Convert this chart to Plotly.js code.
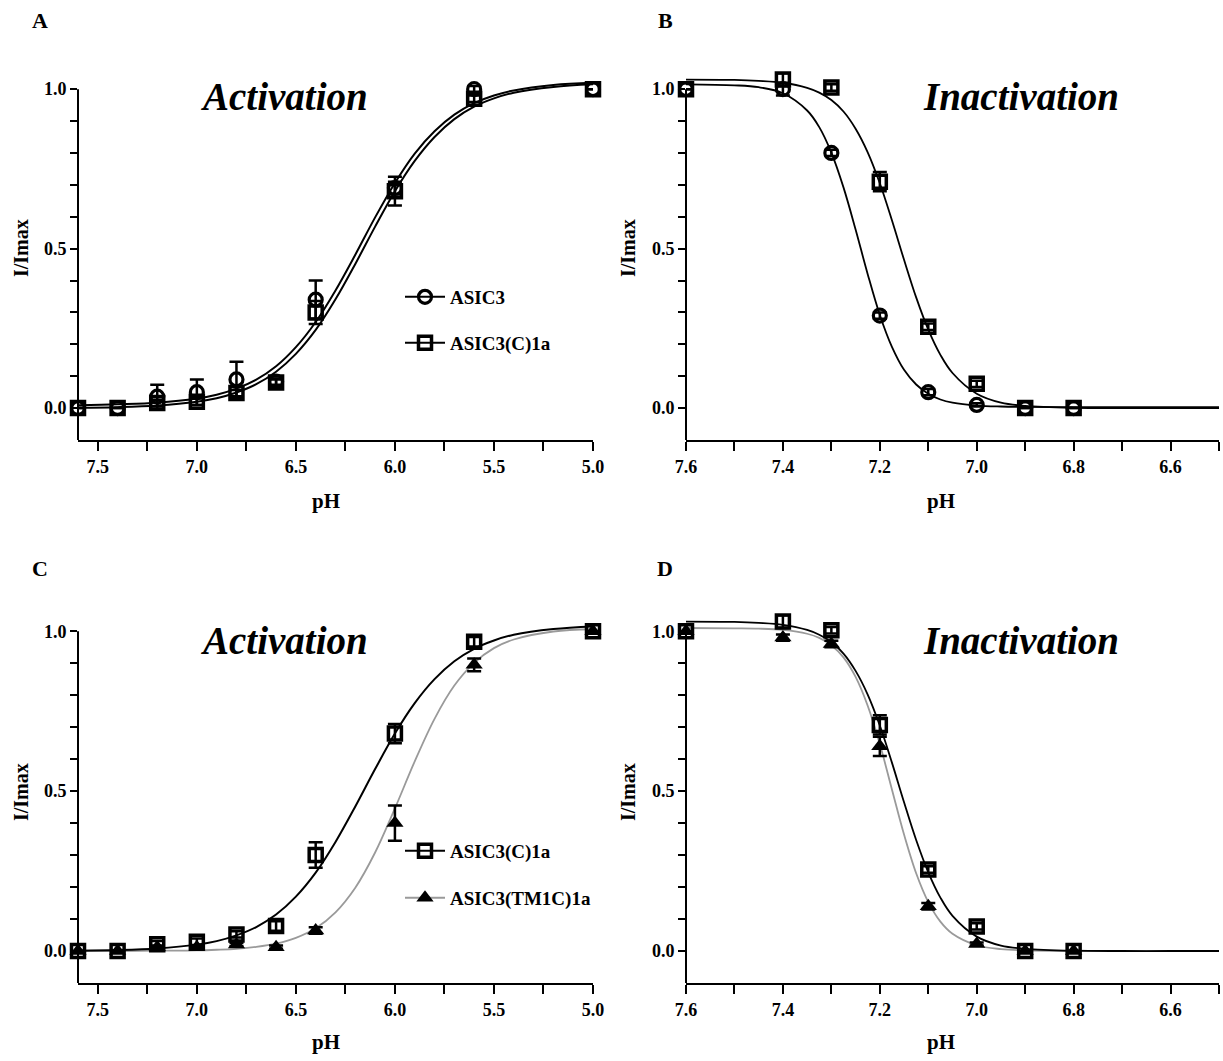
<!DOCTYPE html>
<html><head><meta charset="utf-8">
<script src="https://cdn.plot.ly/plotly-3.0.1.min.js"></script>
<style>html,body{margin:0;padding:0;background:#fff}#chart{width:1223px;height:1061px}</style>
</head><body><div id="chart"></div>
<script>
// ---------- data ----------
// Activation (panels A, C)
const actPH = [7.6, 7.4, 7.2, 7.0, 6.8, 6.6, 6.4, 6.0, 5.6, 5.0];
const actASIC3 = [0.0, 0.0, 0.036, 0.05, 0.09, 0.083, 0.34, 0.69, 1.0, 1.0];
const actASIC3Err = [0, 0, 0.037, 0.04, 0.055, 0.01, 0.06, 0.02, 0.01, 0];
const actC1aA = [0.0, 0.0, 0.016, 0.02, 0.047, 0.08, 0.30, 0.68, 0.97, 1.0];
const actC1aAErr = [0, 0, 0.01, 0.01, 0.01, 0.01, 0.036, 0.045, 0.01, 0];
const actC1aC = [0.0, 0.0, 0.021, 0.029, 0.052, 0.078, 0.30, 0.68, 0.967, 1.0];
const actC1aCErr = [0, 0, 0.01, 0.01, 0.01, 0.015, 0.04, 0.03, 0.015, 0];
const actTM1C = [0.0, 0.0, 0.012, 0.012, 0.02, 0.012, 0.064, 0.40, 0.895, 1.0];
const actTM1CErr = [0, 0, 0.005, 0.005, 0.005, 0.005, 0.01, 0.055, 0.02, 0];

// fitted activation curves
const actFitPH = [7.6, 7.4, 7.2, 7.0, 6.9, 6.8, 6.7, 6.6, 6.5, 6.4, 6.3, 6.2, 6.1, 6.0, 5.9, 5.8, 5.7, 5.6, 5.5, 5.4, 5.2, 5.0];
const actFitASIC3 = [0.009, 0.012, 0.017, 0.030, 0.042, 0.061, 0.089, 0.131, 0.191, 0.270, 0.369, 0.481, 0.598, 0.706, 0.798, 0.868, 0.920, 0.956, 0.980, 0.996, 1.013, 1.020];
const actFitC1a = [0.001, 0.003, 0.008, 0.020, 0.031, 0.049, 0.075, 0.114, 0.170, 0.245, 0.341, 0.452, 0.569, 0.680, 0.775, 0.850, 0.906, 0.945, 0.971, 0.989, 1.007, 1.015];
const actFitTM1C = [0.000, 0.000, 0.001, 0.002, 0.004, 0.007, 0.013, 0.023, 0.041, 0.071, 0.121, 0.198, 0.308, 0.446, 0.593, 0.726, 0.830, 0.901, 0.947, 0.974, 0.999, 1.006];

// Inactivation (panels B, D)
const inPH = [7.6, 7.4, 7.3, 7.2, 7.1, 7.0, 6.9, 6.8];
const inASIC3 = [1.0, 1.0, 0.80, 0.29, 0.05, 0.01, 0.0, 0.0];
const inASIC3Err = [0, 0.02, 0.01, 0.01, 0.01, 0.005, 0, 0];
const inC1aB = [1.0, 1.03, 1.005, 0.71, 0.255, 0.076, 0.0, 0.0];
const inC1aBErr = [0, 0.02, 0.01, 0.03, 0.01, 0.01, 0, 0];
const inC1aD = [1.0, 1.03, 1.003, 0.707, 0.255, 0.077, 0.0, 0.0];
const inC1aDErr = [0, 0.02, 0.01, 0.03, 0.01, 0.01, 0, 0];
const inTM1C = [1.0, 0.98, 0.96, 0.64, 0.14, 0.022, 0.0, 0.0];
const inTM1CErr = [0, 0.01, 0.01, 0.03, 0.01, 0.005, 0, 0];

// fitted inactivation curves
const inFitPH = [7.6, 7.5, 7.45, 7.4, 7.35, 7.325, 7.3, 7.275, 7.25, 7.225, 7.2, 7.175, 7.15, 7.125, 7.1, 7.075, 7.05, 7.0, 6.95, 6.9, 6.8, 6.7, 6.6, 6.5];
const inFitASIC3 = [1.015, 1.012, 1.006, 0.987, 0.933, 0.881, 0.801, 0.692, 0.560, 0.420, 0.292, 0.192, 0.120, 0.074, 0.045, 0.027, 0.017, 0.008, 0.005, 0.004, 0.003, 0.003, 0.003, 0.003];
const inFitC1a = [1.030, 1.029, 1.026, 1.020, 1.004, 0.989, 0.966, 0.930, 0.876, 0.802, 0.705, 0.589, 0.465, 0.347, 0.246, 0.167, 0.110, 0.045, 0.017, 0.007, 0.001, 0.000, 0.000, 0.000];
const inFitTM1C = [1.010, 1.009, 1.008, 1.004, 0.992, 0.979, 0.956, 0.918, 0.857, 0.767, 0.647, 0.505, 0.364, 0.243, 0.153, 0.092, 0.054, 0.018, 0.006, 0.002, 0.000, 0.000, 0.000, 0.000];

// tick labels
const actTickVals = [7.5, 7.25, 7.0, 6.75, 6.5, 6.25, 6.0, 5.75, 5.5, 5.25, 5.0];
const actTickText = ['7.5', '', '7.0', '', '6.5', '', '6.0', '', '5.5', '', '5.0'];
const inTickVals = [7.6, 7.5, 7.4, 7.3, 7.2, 7.1, 7.0, 6.9, 6.8, 6.7, 6.6, 6.5];
const inTickText = ['7.6', '', '7.4', '', '7.2', '', '7.0', '', '6.8', '', '6.6', ''];
const yTickVals = [0, 0.1, 0.2, 0.3, 0.4, 0.5, 0.6, 0.7, 0.8, 0.9, 1.0];
const yTickText = ['0.0', '', '', '', '', '0.5', '', '', '', '', '1.0'];

const panelLetters = ['A', 'B', 'C', 'D'];
const panelTitles = ['Activation', 'Inactivation', 'Activation', 'Inactivation'];
const seriesNames = ['ASIC3', 'ASIC3(C)1a', 'ASIC3(TM1C)1a'];

// ---------- styling ----------
const W = 1223, H = 1061;
const fx = px => px / W;
const fy = py => 1 - py / H;
const SERIF = 'Liberation Serif, Times New Roman, serif';
const GRAY = '#9a9a9a';

const circ = {symbol: 'circle-open', size: 13, color: 'black', line: {width: 3.2, color: 'black'}};
const sq = {symbol: 'square-open', size: 13, color: 'black', line: {width: 3.5, color: 'black'}};
const tri = {symbol: 'triangle-up', size: 15, color: 'black', line: {width: 0}};

function errs(arr) {
  return {type: 'data', array: arr, visible: true, color: 'black', thickness: 2.5, width: 7};
}
function curve(x, y, ax, color, w) {
  return {x: x, y: y, xaxis: 'x' + ax, yaxis: 'y' + ax, mode: 'lines', type: 'scatter',
    line: {color: color, width: w, shape: 'spline', smoothing: 1}, showlegend: false, hoverinfo: 'skip'};
}
function pts(x, y, e, ax, marker) {
  return {x: x, y: y, xaxis: 'x' + ax, yaxis: 'y' + ax, mode: 'markers', type: 'scatter',
    marker: marker, error_y: errs(e), cliponaxis: false, showlegend: false, hoverinfo: 'skip'};
}
function legendItem(name, ax, marker, color, leg) {
  return {x: [null], y: [null], xaxis: 'x' + ax, yaxis: 'y' + ax, mode: 'lines+markers', type: 'scatter',
    name: name, line: {color: color, width: 2}, marker: marker, legend: leg, showlegend: true, hoverinfo: 'skip'};
}

const data = [
  // A
  curve(actFitPH, actFitASIC3, '', 'black', 2),
  curve(actFitPH, actFitC1a, '', 'black', 2),
  pts(actPH, actASIC3, actASIC3Err, '', circ),
  pts(actPH, actC1aA, actC1aAErr, '', sq),
  legendItem(seriesNames[0], '', circ, 'black', 'legend'),
  legendItem(seriesNames[1], '', sq, 'black', 'legend2'),
  // B
  curve(inFitPH, inFitASIC3, '2', 'black', 1.8),
  curve(inFitPH, inFitC1a, '2', 'black', 1.8),
  pts(inPH, inASIC3, inASIC3Err, '2', circ),
  pts(inPH, inC1aB, inC1aBErr, '2', sq),
  // C
  curve(actFitPH, actFitTM1C, '3', GRAY, 1.8),
  curve(actFitPH, actFitC1a, '3', 'black', 2),
  pts(actPH, actTM1C, actTM1CErr, '3', tri),
  pts(actPH, actC1aC, actC1aCErr, '3', sq),
  legendItem(seriesNames[1], '3', sq, 'black', 'legend3'),
  legendItem(seriesNames[2], '3', tri, GRAY, 'legend4'),
  // D
  curve(inFitPH, inFitTM1C, '4', GRAY, 1.8),
  curve(inFitPH, inFitC1a, '4', 'black', 1.8),
  pts(inPH, inTM1C, inTM1CErr, '4', tri),
  pts(inPH, inC1aD, inC1aDErr, '4', sq)
];

const tickFont = {family: SERIF, size: 18, color: 'black', weight: 'bold'};
function xax(domain, range, vals, text, anchor) {
  return {domain: domain, range: range, anchor: anchor, tickmode: 'array', tickvals: vals, ticktext: text,
    ticks: 'outside', ticklen: 9, tickwidth: 2, tickcolor: 'black', showline: true, linewidth: 2,
    linecolor: 'black', showgrid: false, zeroline: false, tickfont: tickFont, fixedrange: true};
}
function yax(domain, anchor) {
  return {domain: domain, range: [-0.1, 1.06], anchor: anchor, tickmode: 'array', tickvals: yTickVals,
    ticktext: yTickText, ticks: 'outside', ticklen: 7, tickwidth: 2, tickcolor: 'black', showline: false,
    showgrid: false, zeroline: false, tickfont: tickFont, fixedrange: true};
}

const xLeft = [fx(78), fx(593)], xRight = [fx(686), fx(1219)];
const yTop = [fy(440), fy(70)], yBot = [fy(983), fy(612)];

const legFont = {family: SERIF, size: 19, color: 'black', weight: 'bold'};
function leg(px, py) {
  return {x: fx(px), y: fy(py), xanchor: 'left', yanchor: 'middle', bgcolor: 'rgba(0,0,0,0)',
    borderwidth: 0, font: legFont, itemwidth: 40, itemclick: false, itemdoubleclick: false};
}

function ann(text, px, py, size, italic, angle) {
  return {text: text, x: fx(px), y: fy(py), xref: 'paper', yref: 'paper', showarrow: false,
    xanchor: 'center', yanchor: 'middle', textangle: angle || 0,
    font: {family: SERIF, size: size, color: 'black', weight: 'bold', style: italic ? 'italic' : 'normal'}};
}

const annotations = [
  ann(panelLetters[0], 40, 20, 22), ann(panelLetters[1], 665, 20, 22),
  ann(panelLetters[2], 40, 568, 22), ann(panelLetters[3], 665, 568, 22),
  ann(panelTitles[0], 284, 97, 39, true), ann(panelTitles[1], 1021, 97, 39, true),
  ann(panelTitles[2], 284, 640, 39, true), ann(panelTitles[3], 1021, 640, 39, true),
  ann('pH', 326, 501, 21), ann('pH', 941, 501, 21), ann('pH', 326, 1042, 21), ann('pH', 941, 1042, 21),
  ann('I/Imax', 21, 248, 20, false, -90), ann('I/Imax', 628, 248, 20, false, -90),
  ann('I/Imax', 21, 792, 20, false, -90), ann('I/Imax', 628, 792, 20, false, -90)
];

function yline(ax) {
  return {type: 'line', xref: 'x' + ax + ' domain', yref: 'y' + ax, x0: 0, x1: 0, y0: -0.1, y1: 1.0,
    line: {color: 'black', width: 2}};
}

const layout = {
  width: W, height: H, margin: {l: 0, r: 0, t: 0, b: 0},
  paper_bgcolor: 'white', plot_bgcolor: 'rgba(0,0,0,0)',
  xaxis: xax(xLeft, [7.6, 5.0], actTickVals, actTickText, 'y'),
  yaxis: yax(yTop, 'x'),
  xaxis2: xax(xRight, [7.6, 6.5], inTickVals, inTickText, 'y2'),
  yaxis2: yax(yTop, 'x2'),
  xaxis3: xax(xLeft, [7.6, 5.0], actTickVals, actTickText, 'y3'),
  yaxis3: yax(yBot, 'x3'),
  xaxis4: xax(xRight, [7.6, 6.5], inTickVals, inTickText, 'y4'),
  yaxis4: yax(yBot, 'x4'),
  shapes: [yline(''), yline('2'), yline('3'), yline('4')],
  annotations: annotations,
  legend: leg(400, 297), legend2: leg(400, 343), legend3: leg(400, 851), legend4: leg(400, 898),
  hovermode: false
};

Plotly.newPlot('chart', data, layout, {displayModeBar: false, staticPlot: true});
</script></body></html>
